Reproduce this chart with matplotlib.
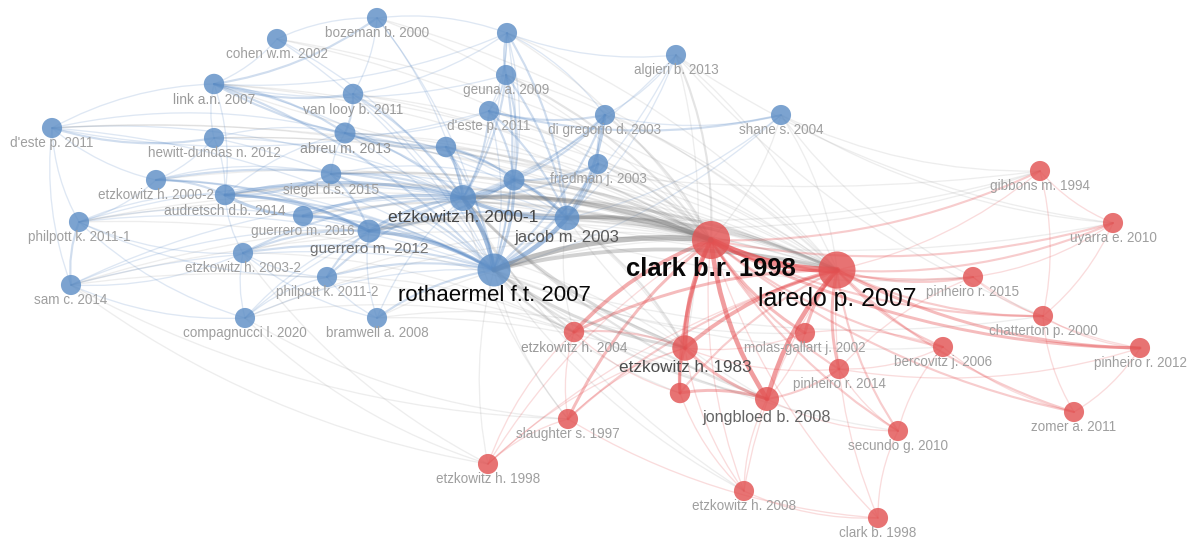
import numpy as np
import matplotlib
matplotlib.use('Agg')
import matplotlib.pyplot as plt
from matplotlib.path import Path
from matplotlib.patches import PathPatch, Circle

plt.rcParams['font.family'] = ['Liberation Sans', 'DejaVu Sans']

# nodes of the co-citation map (layout coordinates, citations, cluster 0=blue 1=red)
keys = ['bozeman', 'cohen', 'b_top', 'geuna', 'algieri', 'deste_c', 'digregorio', 'shane',
        'link', 'vanlooy', 'deste_l', 'hewitt', 'abreu', 'b_mid', 'friedman', 'b_ctr',
        'etz2000_1', 'siegel', 'etz2000_2', 'audretsch', 'guerrero16', 'philpott1',
        'guerrero12', 'etz2003_2', 'philpott2', 'sam', 'compagnucci', 'bramwell', 'jacob',
        'rothaermel',
        'clark98', 'laredo', 'gibbons', 'uyarra', 'pinheiro15', 'chatterton', 'pinheiro12',
        'bercovitz', 'zomer', 'secundo', 'clarkb98', 'pinheiro14', 'molas', 'etz2004',
        'etz1983', 'r_mid', 'jongbloed', 'slaughter', 'etz1998', 'etz2008']
labels = ['bozeman b. 2000', 'cohen w.m. 2002', '', 'geuna a. 2009', 'algieri b. 2013',
          "d'este p. 2011", 'di gregorio d. 2003', 'shane s. 2004', 'link a.n. 2007',
          'van looy b. 2011', "d'este p. 2011", 'hewitt-dundas n. 2012', 'abreu m. 2013', '',
          'friedman j. 2003', '', 'etzkowitz h. 2000-1', 'siegel d.s. 2015',
          'etzkowitz h. 2000-2', 'audretsch d.b. 2014', 'guerrero m. 2016',
          'philpott k. 2011-1', 'guerrero m. 2012', 'etzkowitz h. 2003-2',
          'philpott k. 2011-2', 'sam c. 2014', 'compagnucci l. 2020', 'bramwell a. 2008',
          'jacob m. 2003', 'rothaermel f.t. 2007',
          'clark b.r. 1998', 'laredo p. 2007', 'gibbons m. 1994', 'uyarra e. 2010',
          'pinheiro r. 2015', 'chatterton p. 2000', 'pinheiro r. 2012', 'bercovitz j. 2006',
          'zomer a. 2011', 'secundo g. 2010', 'clark b. 1998', 'pinheiro r. 2014',
          'molas-gallart j. 2002', 'etzkowitz h. 2004', 'etzkowitz h. 1983', '',
          'jongbloed b. 2008', 'slaughter s. 1997', 'etzkowitz h. 1998', 'etzkowitz h. 2008']
xs = [377, 277, 507, 506, 676, 489, 605, 781, 214, 353, 52, 214, 345, 446, 598, 514,
      463, 331, 156, 225, 303, 79, 369, 243, 327, 71, 245, 377, 567, 494,
      711, 837, 1040, 1113, 973, 1043, 1140, 943, 1074, 898, 878, 839, 805, 574,
      685, 680, 767, 568, 488, 744]
ys = [18, 39, 33, 75, 55, 111, 115, 115, 84, 94, 128, 138, 133, 147, 164, 180,
      198, 174, 180, 195, 216, 222, 231, 253, 277, 285, 318, 318, 218, 270,
      240, 270, 171, 223, 277, 316, 348, 347, 412, 431, 518, 369, 333, 332,
      348, 393, 399, 419, 464, 491]
cites = [33, 33, 33, 33, 33, 33, 33, 33, 34, 34, 33, 33, 36, 34, 33, 36,
         55, 34, 33, 34, 33, 33, 43, 33, 33, 33, 33, 33, 50, 89,
         118, 112, 33, 33, 33, 33, 33, 33, 33, 33, 33, 33, 33, 34,
         53, 34, 47, 33, 33, 33]
cluster = [0] * 30 + [1] * 20

blue_links = [
    ('etz2000_1', 'rothaermel', 5), ('etz2000_1', 'jacob', 4), ('etz2000_1', 'b_ctr', 4),
    ('etz2000_1', 'b_mid', 3), ('etz2000_1', 'guerrero12', 3), ('etz2000_1', 'guerrero16', 3),
    ('etz2000_1', 'audretsch', 3), ('etz2000_1', 'etz2000_2', 2), ('etz2000_1', 'siegel', 2),
    ('etz2000_1', 'abreu', 2), ('etz2000_1', 'geuna', 2), ('etz2000_1', 'deste_c', 2),
    ('etz2000_1', 'b_top', 1), ('etz2000_1', 'friedman', 2), ('etz2000_1', 'digregorio', 2),
    ('etz2000_1', 'philpott2', 2), ('etz2000_1', 'etz2003_2', 2), ('etz2000_1', 'link', 1),
    ('etz2000_1', 'vanlooy', 2), ('etz2000_1', 'hewitt', 1), ('etz2000_1', 'bramwell', 1),
    ('etz2000_1', 'compagnucci', 1), ('etz2000_1', 'philpott1', 1), ('etz2000_1', 'sam', 1),
    ('etz2000_1', 'deste_l', 1), ('etz2000_1', 'cohen', 1), ('etz2000_1', 'bozeman', 1),
    ('etz2000_1', 'algieri', 1),
    ('rothaermel', 'jacob', 5), ('rothaermel', 'guerrero12', 4), ('rothaermel', 'b_ctr', 3),
    ('rothaermel', 'b_mid', 2), ('rothaermel', 'friedman', 2), ('rothaermel', 'digregorio', 2),
    ('rothaermel', 'etz2003_2', 2), ('rothaermel', 'philpott2', 2), ('rothaermel', 'bramwell', 2),
    ('rothaermel', 'compagnucci', 1), ('rothaermel', 'audretsch', 2), ('rothaermel', 'guerrero16', 2),
    ('rothaermel', 'siegel', 2), ('rothaermel', 'abreu', 1), ('rothaermel', 'link', 2),
    ('rothaermel', 'vanlooy', 1), ('rothaermel', 'geuna', 2), ('rothaermel', 'deste_c', 1),
    ('rothaermel', 'b_top', 1), ('rothaermel', 'bozeman', 1), ('rothaermel', 'cohen', 1),
    ('rothaermel', 'sam', 1), ('rothaermel', 'philpott1', 1), ('rothaermel', 'etz2000_2', 1),
    ('rothaermel', 'hewitt', 1), ('rothaermel', 'algieri', 1), ('rothaermel', 'shane', 1),
    ('rothaermel', 'deste_l', 1),
    ('jacob', 'b_ctr', 3), ('jacob', 'friedman', 3), ('jacob', 'digregorio', 3),
    ('jacob', 'b_mid', 2), ('jacob', 'geuna', 2), ('jacob', 'deste_c', 2),
    ('jacob', 'guerrero12', 2), ('jacob', 'audretsch', 1), ('jacob', 'algieri', 1),
    ('jacob', 'shane', 1), ('jacob', 'b_top', 2), ('jacob', 'siegel', 1), ('jacob', 'abreu', 1),
    ('b_ctr', 'b_mid', 2), ('b_ctr', 'friedman', 2), ('b_ctr', 'deste_c', 2),
    ('b_ctr', 'geuna', 2), ('b_ctr', 'b_top', 1), ('b_ctr', 'digregorio', 2),
    ('b_ctr', 'guerrero12', 2), ('b_ctr', 'siegel', 1), ('b_ctr', 'abreu', 1),
    ('guerrero12', 'guerrero16', 3), ('guerrero12', 'audretsch', 3), ('guerrero12', 'etz2003_2', 2),
    ('guerrero12', 'philpott2', 2), ('guerrero12', 'siegel', 2), ('guerrero12', 'etz2000_2', 2),
    ('guerrero12', 'philpott1', 1), ('guerrero12', 'sam', 1), ('guerrero12', 'compagnucci', 1),
    ('guerrero12', 'bramwell', 1),
    ('audretsch', 'guerrero16', 3), ('audretsch', 'etz2000_2', 2), ('audretsch', 'siegel', 2),
    ('audretsch', 'link', 1), ('audretsch', 'hewitt', 1), ('audretsch', 'philpott1', 1),
    ('audretsch', 'etz2003_2', 1), ('audretsch', 'abreu', 1),
    ('link', 'vanlooy', 2), ('link', 'abreu', 2), ('link', 'b_mid', 2), ('link', 'cohen', 1),
    ('link', 'bozeman', 2), ('link', 'hewitt', 1), ('link', 'deste_l', 1), ('link', 'geuna', 1),
    ('link', 'b_top', 1),
    ('deste_l', 'hewitt', 2), ('deste_l', 'abreu', 1), ('deste_l', 'deste_c', 1),
    ('deste_l', 'philpott1', 1), ('deste_l', 'etz2000_2', 1), ('deste_l', 'sam', 1),
    ('deste_c', 'shane', 2), ('deste_c', 'digregorio', 2), ('deste_c', 'geuna', 1),
    ('deste_c', 'b_top', 1), ('deste_c', 'abreu', 1),
    ('digregorio', 'shane', 1), ('digregorio', 'algieri', 1), ('digregorio', 'friedman', 2),
    ('digregorio', 'b_top', 1),
    ('b_top', 'bozeman', 1), ('b_top', 'geuna', 2), ('b_top', 'algieri', 1), ('b_top', 'vanlooy', 1),
    ('bozeman', 'vanlooy', 1), ('bozeman', 'cohen', 1),
    ('abreu', 'vanlooy', 2), ('abreu', 'siegel', 1), ('abreu', 'b_mid', 2), ('abreu', 'hewitt', 1),
    ('philpott1', 'sam', 2), ('philpott1', 'etz2000_2', 1), ('philpott1', 'etz2003_2', 1),
    ('philpott1', 'compagnucci', 1), ('philpott1', 'philpott2', 1),
    ('sam', 'etz2003_2', 1), ('sam', 'compagnucci', 1),
    ('etz2003_2', 'philpott2', 1), ('etz2003_2', 'compagnucci', 1), ('etz2003_2', 'bramwell', 1),
    ('philpott2', 'bramwell', 1), ('philpott2', 'compagnucci', 1),
    ('etz2000_2', 'hewitt', 1), ('etz2000_2', 'siegel', 1),
]

red_links = [
    ('clark98', 'laredo', 7), ('clark98', 'etz1983', 5), ('clark98', 'jongbloed', 5),
    ('clark98', 'etz2004', 4), ('clark98', 'r_mid', 3), ('clark98', 'slaughter', 3),
    ('clark98', 'molas', 3), ('clark98', 'pinheiro14', 2), ('clark98', 'pinheiro12', 3),
    ('clark98', 'pinheiro15', 2), ('clark98', 'chatterton', 2), ('clark98', 'bercovitz', 2),
    ('clark98', 'secundo', 2), ('clark98', 'gibbons', 2), ('clark98', 'uyarra', 2),
    ('clark98', 'zomer', 2), ('clark98', 'etz1998', 1), ('clark98', 'etz2008', 1),
    ('clark98', 'clarkb98', 1),
    ('laredo', 'etz1983', 4), ('laredo', 'jongbloed', 5), ('laredo', 'etz2004', 3),
    ('laredo', 'molas', 3), ('laredo', 'pinheiro14', 3), ('laredo', 'secundo', 2),
    ('laredo', 'bercovitz', 2), ('laredo', 'chatterton', 2), ('laredo', 'pinheiro12', 3),
    ('laredo', 'pinheiro15', 2), ('laredo', 'uyarra', 2), ('laredo', 'gibbons', 1),
    ('laredo', 'zomer', 2), ('laredo', 'r_mid', 2), ('laredo', 'slaughter', 2),
    ('laredo', 'etz2008', 1), ('laredo', 'clarkb98', 1), ('laredo', 'etz1998', 1),
    ('etz1983', 'jongbloed', 3), ('etz1983', 'r_mid', 3), ('etz1983', 'etz2004', 2),
    ('etz1983', 'slaughter', 1), ('etz1983', 'etz1998', 1), ('etz1983', 'etz2008', 1),
    ('etz1983', 'molas', 1), ('etz1983', 'pinheiro14', 1),
    ('jongbloed', 'r_mid', 3), ('jongbloed', 'pinheiro14', 2), ('jongbloed', 'molas', 1),
    ('jongbloed', 'secundo', 1), ('jongbloed', 'etz2008', 1),
    ('etz2004', 'slaughter', 1), ('etz2004', 'etz1998', 1), ('etz2004', 'r_mid', 1),
    ('slaughter', 'etz1998', 1), ('slaughter', 'clarkb98', 1),
    ('pinheiro14', 'pinheiro12', 1), ('pinheiro14', 'secundo', 1), ('pinheiro14', 'bercovitz', 1),
    ('pinheiro15', 'pinheiro12', 1), ('pinheiro15', 'uyarra', 1), ('pinheiro15', 'chatterton', 1),
    ('pinheiro15', 'pinheiro14', 1),
    ('chatterton', 'uyarra', 1), ('chatterton', 'gibbons', 1), ('chatterton', 'zomer', 1),
    ('chatterton', 'pinheiro12', 1),
    ('bercovitz', 'zomer', 1), ('bercovitz', 'secundo', 1), ('bercovitz', 'molas', 1),
    ('secundo', 'clarkb98', 1), ('zomer', 'pinheiro12', 1), ('gibbons', 'uyarra', 1),
    ('etz2008', 'clarkb98', 1), ('etz2008', 'r_mid', 1),
]

cross_links = [
    ('rothaermel', 'clark98', 6), ('rothaermel', 'laredo', 4), ('etz2000_1', 'clark98', 5),
    ('etz2000_1', 'laredo', 3), ('jacob', 'clark98', 5), ('jacob', 'laredo', 3),
    ('b_ctr', 'clark98', 3), ('b_mid', 'clark98', 2), ('guerrero12', 'clark98', 3),
    ('guerrero16', 'clark98', 2), ('audretsch', 'clark98', 2), ('siegel', 'clark98', 2),
    ('friedman', 'clark98', 2), ('digregorio', 'clark98', 2), ('algieri', 'clark98', 2),
    ('shane', 'clark98', 1), ('deste_c', 'clark98', 1), ('geuna', 'clark98', 2),
    ('abreu', 'clark98', 1), ('link', 'clark98', 1), ('b_top', 'clark98', 1),
    ('etz2000_2', 'clark98', 1), ('philpott2', 'clark98', 1), ('etz2003_2', 'clark98', 1),
    ('bramwell', 'clark98', 1), ('compagnucci', 'clark98', 1), ('philpott1', 'clark98', 1),
    ('vanlooy', 'clark98', 1), ('deste_l', 'clark98', 1), ('bozeman', 'clark98', 1),
    ('rothaermel', 'etz1983', 3), ('rothaermel', 'etz2004', 2), ('rothaermel', 'jongbloed', 2),
    ('rothaermel', 'slaughter', 1), ('etz2000_1', 'etz1983', 3), ('etz2000_1', 'etz2004', 2),
    ('etz2000_1', 'jongbloed', 2), ('jacob', 'etz1983', 2), ('jacob', 'etz2004', 1),
    ('jacob', 'jongbloed', 1), ('guerrero12', 'etz1983', 1), ('b_ctr', 'etz1983', 1),
    ('rothaermel', 'molas', 1), ('rothaermel', 'etz1998', 1), ('etz2000_1', 'etz2008', 1),
    ('etz2000_1', 'gibbons', 1), ('jacob', 'gibbons', 1), ('algieri', 'laredo', 1),
    ('shane', 'laredo', 1), ('shane', 'gibbons', 1), ('friedman', 'laredo', 1),
    ('digregorio', 'laredo', 1), ('algieri', 'etz1983', 1), ('bramwell', 'etz1983', 1),
    ('compagnucci', 'etz2004', 1), ('philpott2', 'etz2004', 1), ('sam', 'etz2004', 1),
    ('link', 'laredo', 1), ('b_top', 'laredo', 1), ('etz2000_1', 'pinheiro15', 1),
    ('rothaermel', 'bercovitz', 1), ('rothaermel', 'secundo', 1), ('rothaermel', 'chatterton', 1),
    ('etz2000_1', 'uyarra', 1), ('guerrero12', 'laredo', 1), ('siegel', 'laredo', 1),
    ('audretsch', 'laredo', 1), ('rothaermel', 'r_mid', 1), ('etz2000_1', 'slaughter', 1),
    ('rothaermel', 'etz2008', 1), ('etz2003_2', 'etz1998', 1), ('compagnucci', 'etz1998', 1),
    ('philpott1', 'etz1983', 1), ('sam', 'slaughter', 1),
    ('hewitt', 'laredo', 1), ('link', 'gibbons', 1), ('deste_l', 'laredo', 1),
    ('cohen', 'laredo', 1), ('bozeman', 'laredo', 1), ('vanlooy', 'laredo', 1),
    ('philpott1', 'laredo', 1), ('sam', 'laredo', 1), ('algieri', 'uyarra', 1),
    ('shane', 'uyarra', 1), ('shane', 'pinheiro15', 1), ('algieri', 'chatterton', 1),
    ('sam', 'etz1998', 1), ('compagnucci', 'slaughter', 1), ('bramwell', 'jongbloed', 1),
    ('etz2003_2', 'etz2004', 1), ('cohen', 'clark98', 1), ('hewitt', 'clark98', 1),
    ('sam', 'clark98', 1), ('abreu', 'laredo', 1), ('geuna', 'laredo', 1),
]

idx = {k: i for i, k in enumerate(keys)}
radius = 1.75 * np.sqrt(np.array(cites, dtype=float))
node_colors = ['#5f8fc6', '#e25454']
edge_colors = ['#4a7fc0', '#e33d40']

fig = plt.figure(figsize=(11.92, 5.39), dpi=100)
ax = fig.add_axes([0, 0, 1, 1])
ax.set_xlim(0, 1192)
ax.set_ylim(539, 0)
ax.set_aspect('equal')
ax.axis('off')

# links, weakest first so the strong ones sit on top
all_links = sorted(blue_links + red_links + cross_links, key=lambda e: e[2])
for a, b, w in all_links:
    ia, ib = idx[a], idx[b]
    if cites[ib] > cites[ia]:
        ia, ib = ib, ia
    p0 = np.array([xs[ia], ys[ia]], dtype=float)
    p1 = np.array([xs[ib], ys[ib]], dtype=float)
    d = p1 - p0
    ctrl = (p0 + p1) / 2 + 0.12 * np.array([-d[1], d[0]])
    if cluster[ia] == cluster[ib]:
        col = edge_colors[cluster[ia]]
        alpha = 0.10 + 0.08 * w
    else:
        col = '#7b7b7b'
        alpha = 0.06 + 0.07 * w
    path = Path([p0, ctrl, p1], [Path.MOVETO, Path.CURVE3, Path.CURVE3])
    ax.add_patch(PathPatch(path, facecolor='none', edgecolor=col, lw=0.35 + 0.6 * w,
                           alpha=min(alpha, 0.6), capstyle='round', zorder=1))

# nodes
for i in range(len(keys)):
    ax.add_patch(Circle((xs[i], ys[i]), radius[i], facecolor=node_colors[cluster[i]],
                        edgecolor='none', alpha=0.82, zorder=2))

# labels below nodes, size and darkness grow with the node
top = int(np.argmax(cites))
for i in range(len(keys)):
    if not labels[i]:
        continue
    r = radius[i]
    fs = 0.97 * r
    g = float(np.clip(0.63 - (r - 10) * 0.12, 0.03, 0.63))
    ax.text(xs[i], ys[i] + r + 0.4 * fs * 100 / 72, labels[i], fontsize=fs,
            color=(g, g, g), ha='center', va='center', zorder=3,
            fontweight='bold' if i == top else 'normal')

fig.savefig('out.png', dpi=100)
